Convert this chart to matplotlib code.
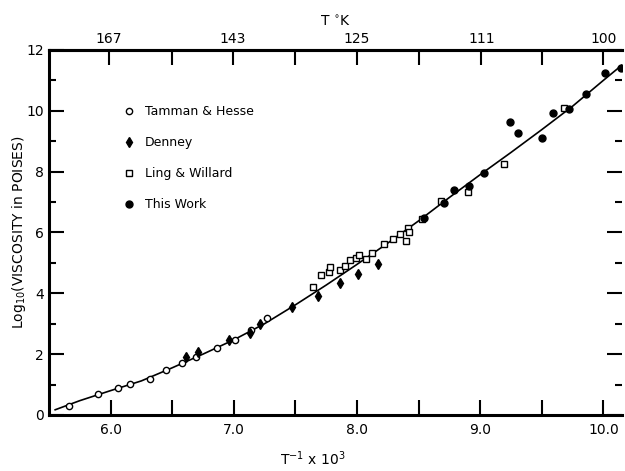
import matplotlib.pyplot as plt
import numpy as np

# Tamman & Hesse (open circles)
th_x = [5.66, 5.90, 6.06, 6.16, 6.32, 6.45, 6.58, 6.69, 6.86, 7.01, 7.14, 7.27]
th_y = [0.30, 0.70, 0.88, 1.02, 1.19, 1.48, 1.72, 1.90, 2.21, 2.48, 2.80, 3.19]

# Denney (filled diamonds)
de_x = [6.61, 6.71, 6.96, 7.13, 7.21, 7.47, 7.68, 7.86, 8.01, 8.17]
de_y = [1.92, 2.08, 2.47, 2.70, 2.98, 3.56, 3.91, 4.33, 4.64, 4.96]

# Ling & Willard (open squares)
lw_x = [7.64, 7.71, 7.77, 7.78, 7.86, 7.90, 7.94, 7.99, 8.02, 8.07, 8.12, 8.22,
        8.29, 8.35, 8.40, 8.41, 8.42, 8.53, 8.68, 8.90, 9.19, 9.68]
lw_y = [4.22, 4.61, 4.71, 4.85, 4.77, 4.90, 5.10, 5.17, 5.27, 5.13, 5.32, 5.61,
        5.80, 5.96, 5.71, 6.14, 6.00, 6.45, 7.02, 7.33, 8.25, 10.09]

# This Work (filled circles)
tw_x = [8.54, 8.71, 8.79, 8.91, 9.03, 9.24, 9.31, 9.50, 9.59, 9.72, 9.86, 10.01, 10.14]
tw_y = [6.47, 6.98, 7.38, 7.54, 7.97, 9.62, 9.28, 9.12, 9.94, 10.05, 10.56, 11.24, 11.42]

# fitted curve
cx = [5.55, 5.75, 6.0, 6.25, 6.5, 6.75, 7.0, 7.25, 7.5, 7.75, 8.0, 8.25,
      8.5, 8.75, 9.0, 9.25, 9.5, 9.75, 10.0, 10.15]
cy = [0.17, 0.47, 0.80, 1.12, 1.55, 2.00, 2.47, 3.00, 3.62, 4.27, 4.95, 5.65,
      6.38, 7.15, 7.90, 8.63, 9.38, 10.15, 11.0, 11.5]

top_T = [167, 143, 125, 111, 100]

plt.rcParams['font.family'] = 'DejaVu Sans'
fig = plt.figure(figsize=(6.25, 4.71), dpi=100)
ax = fig.add_axes([0.0784, 0.119, 0.9166, 0.775])

ax.plot(cx, cy, color='black', lw=1.2, zorder=2)
ax.plot(th_x, th_y, 'o', ms=4.5, mfc='white', mec='black', mew=1.0, ls='none', zorder=3, label='Tamman & Hesse')
ax.plot(de_x, de_y, 'd', ms=5, color='black', ls='none', zorder=3, label='Denney')
ax.plot(lw_x, lw_y, 's', ms=4.5, mfc='white', mec='black', mew=1.0, ls='none', zorder=3, label='Ling & Willard')
ax.plot(tw_x, tw_y, 'o', ms=5, color='black', ls='none', zorder=3, label='This Work')

ax.set_xlim(5.5, 10.15)
ax.set_ylim(0, 12)

for s in ['left', 'bottom', 'top']:
    ax.spines[s].set_linewidth(2.2)
ax.spines['right'].set_visible(False)

ax.set_xticks([6, 7, 8, 9, 10])
ax.set_xticklabels(['6.0', '7.0', '8.0', '9.0', '10.0'])
ax.set_xticks([6.5, 7.5, 8.5, 9.5], minor=True)
ax.set_yticks([0, 2, 4, 6, 8, 10, 12])
ax.set_yticks([1, 3, 5, 7, 9, 11], minor=True)
ax.tick_params(axis='x', which='both', direction='in', length=11, width=1.5, labelsize=10, pad=6)
ax.tick_params(axis='y', which='major', direction='in', length=11, width=1.5, labelsize=10, right=True)
ax.tick_params(axis='y', which='minor', direction='in', length=5, width=1.5, right=True)

top = ax.secondary_xaxis('top')
top.set_xticks([1000 / t for t in top_T])
top.set_xticklabels([str(t) for t in top_T])
top.set_xticks([6.5, 7.5, 8.5, 9.5], minor=True)
top.tick_params(which='both', direction='in', length=11, width=1.5, labelsize=10, pad=3)
top.spines['top'].set_linewidth(2.2)
top.set_xlabel('T $^{\\circ}$K', fontsize=10, labelpad=4)

ax.set_xlabel('T$^{-1}$ x 10$^{3}$', fontsize=10)
ax.xaxis.set_label_coords(0.46, -0.095)
ax.set_ylabel('Log$_{10}$(VISCOSITY in POISES)', fontsize=10)
ax.yaxis.set_label_coords(-0.036, 0.5)

ax.legend(loc='upper left', bbox_to_anchor=(0.109, 0.88), frameon=False, fontsize=9,
          labelspacing=1.45, handletextpad=0.8, handlelength=1.0)

fig.savefig('out.png', dpi=100)
